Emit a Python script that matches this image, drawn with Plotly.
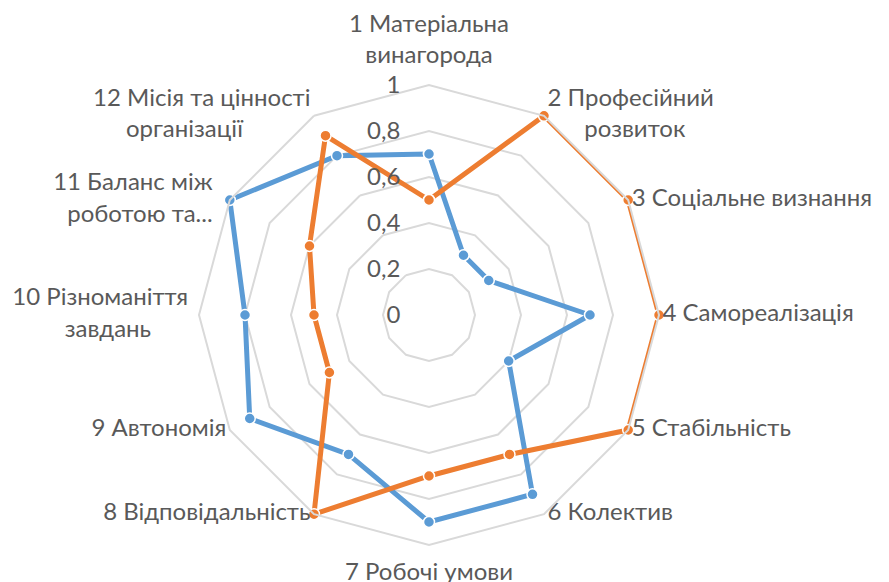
import plotly.graph_objects as go

NB = "\u00a0"  # non-breaking space, used to centre the two-line labels like Excel does

# categories (Excel radar, clockwise from the top)
categories = [
    "1 Матеріальна<br>винагорода",
    "2 Професійний<br>" + NB * 6 + "розвиток",
    "3 Соціальне визнання",
    "4 Самореалізація",
    "5 Стабільність",
    "6 Колектив",
    "7 Робочі умови",
    "8 Відповідальність",
    "9 Автономія",
    "10 Різноманіття<br>завдань" + NB * 6,
    "11 Баланс між<br>роботою та...",
    "12 Місія та цінності<br>організації" + NB * 11,
]

series_blue = [0.7, 0.3, 0.3, 0.7, 0.4, 0.9, 0.9, 0.7, 0.9, 0.8, 1.0, 0.8]
series_orange = [0.5, 1.0, 1.0, 1.0, 1.0, 0.7, 0.7, 1.0, 0.5, 0.5, 0.6, 0.9]

radial_ticks = [0, 0.2, 0.4, 0.6, 0.8, 1]
radial_labels = ["0", "0,2", "0,4", "0,6", "0,8", "1"]

W, H = 889, 582
FONT = "Lato, 'Liberation Sans', sans-serif"
GREY = "#595959"
FS = 24

fig = go.Figure()

for vals, col in [(series_blue, "#5B9BD5"), (series_orange, "#ED7D31")]:
    # close the loop
    fig.add_trace(go.Scatterpolar(
        r=vals + vals[:1],
        theta=categories + categories[:1],
        mode="lines+markers",
        line=dict(color=col, width=5),
        marker=dict(size=11, color=col, line=dict(color="white", width=1.5)),
        showlegend=False,
        hoverinfo="skip",
    ))

# category labels at the outer ring; an invisible marker sets the gap to the text
label_pos = ["top center"] + ["middle right"] * 5 + ["bottom center"] + ["middle left"] * 5
label_gap = [24] + [4] * 5 + [26] + [4, 4, 16, 26, 4]
fig.add_trace(go.Scatterpolar(
    r=[1] * len(categories),
    theta=categories,
    mode="markers+text",
    text=categories,
    textposition=label_pos,
    marker=dict(size=label_gap, opacity=0),
    textfont=dict(family=FONT, size=FS, color=GREY),
    cliponaxis=False,
    showlegend=False,
    hoverinfo="skip",
))

# polar area: centre (421, 307) in figure px (page body adds 8px), radius 230 px
cx, cy, rad = 421, 307, 230
fig.update_layout(
    width=W, height=H,
    margin=dict(l=0, r=0, t=0, b=0),
    paper_bgcolor="white",
    font=dict(family=FONT, size=FS, color=GREY),
    polar=dict(
        domain=dict(x=[(cx - rad) / W, (cx + rad) / W],
                    y=[1 - (cy + rad) / H, 1 - (cy - rad) / H]),
        bgcolor="white",
        gridshape="linear",
        radialaxis=dict(
            range=[0, 1],
            tickvals=radial_ticks,
            ticktext=[t + NB * 4 for t in radial_labels],
            angle=90,
            tickangle=90,
            side="counterclockwise",
            showline=False,
            ticks="",
            gridcolor="#D9D9D9",
            gridwidth=2,
            tickfont=dict(family=FONT, size=FS, color=GREY),
        ),
        angularaxis=dict(
            rotation=90,
            direction="clockwise",
            showgrid=False,
            showline=True,
            showticklabels=False,
            linecolor="#D9D9D9",
            linewidth=2,
            ticks="",
        ),
    ),
)

fig.write_html("out.html")
